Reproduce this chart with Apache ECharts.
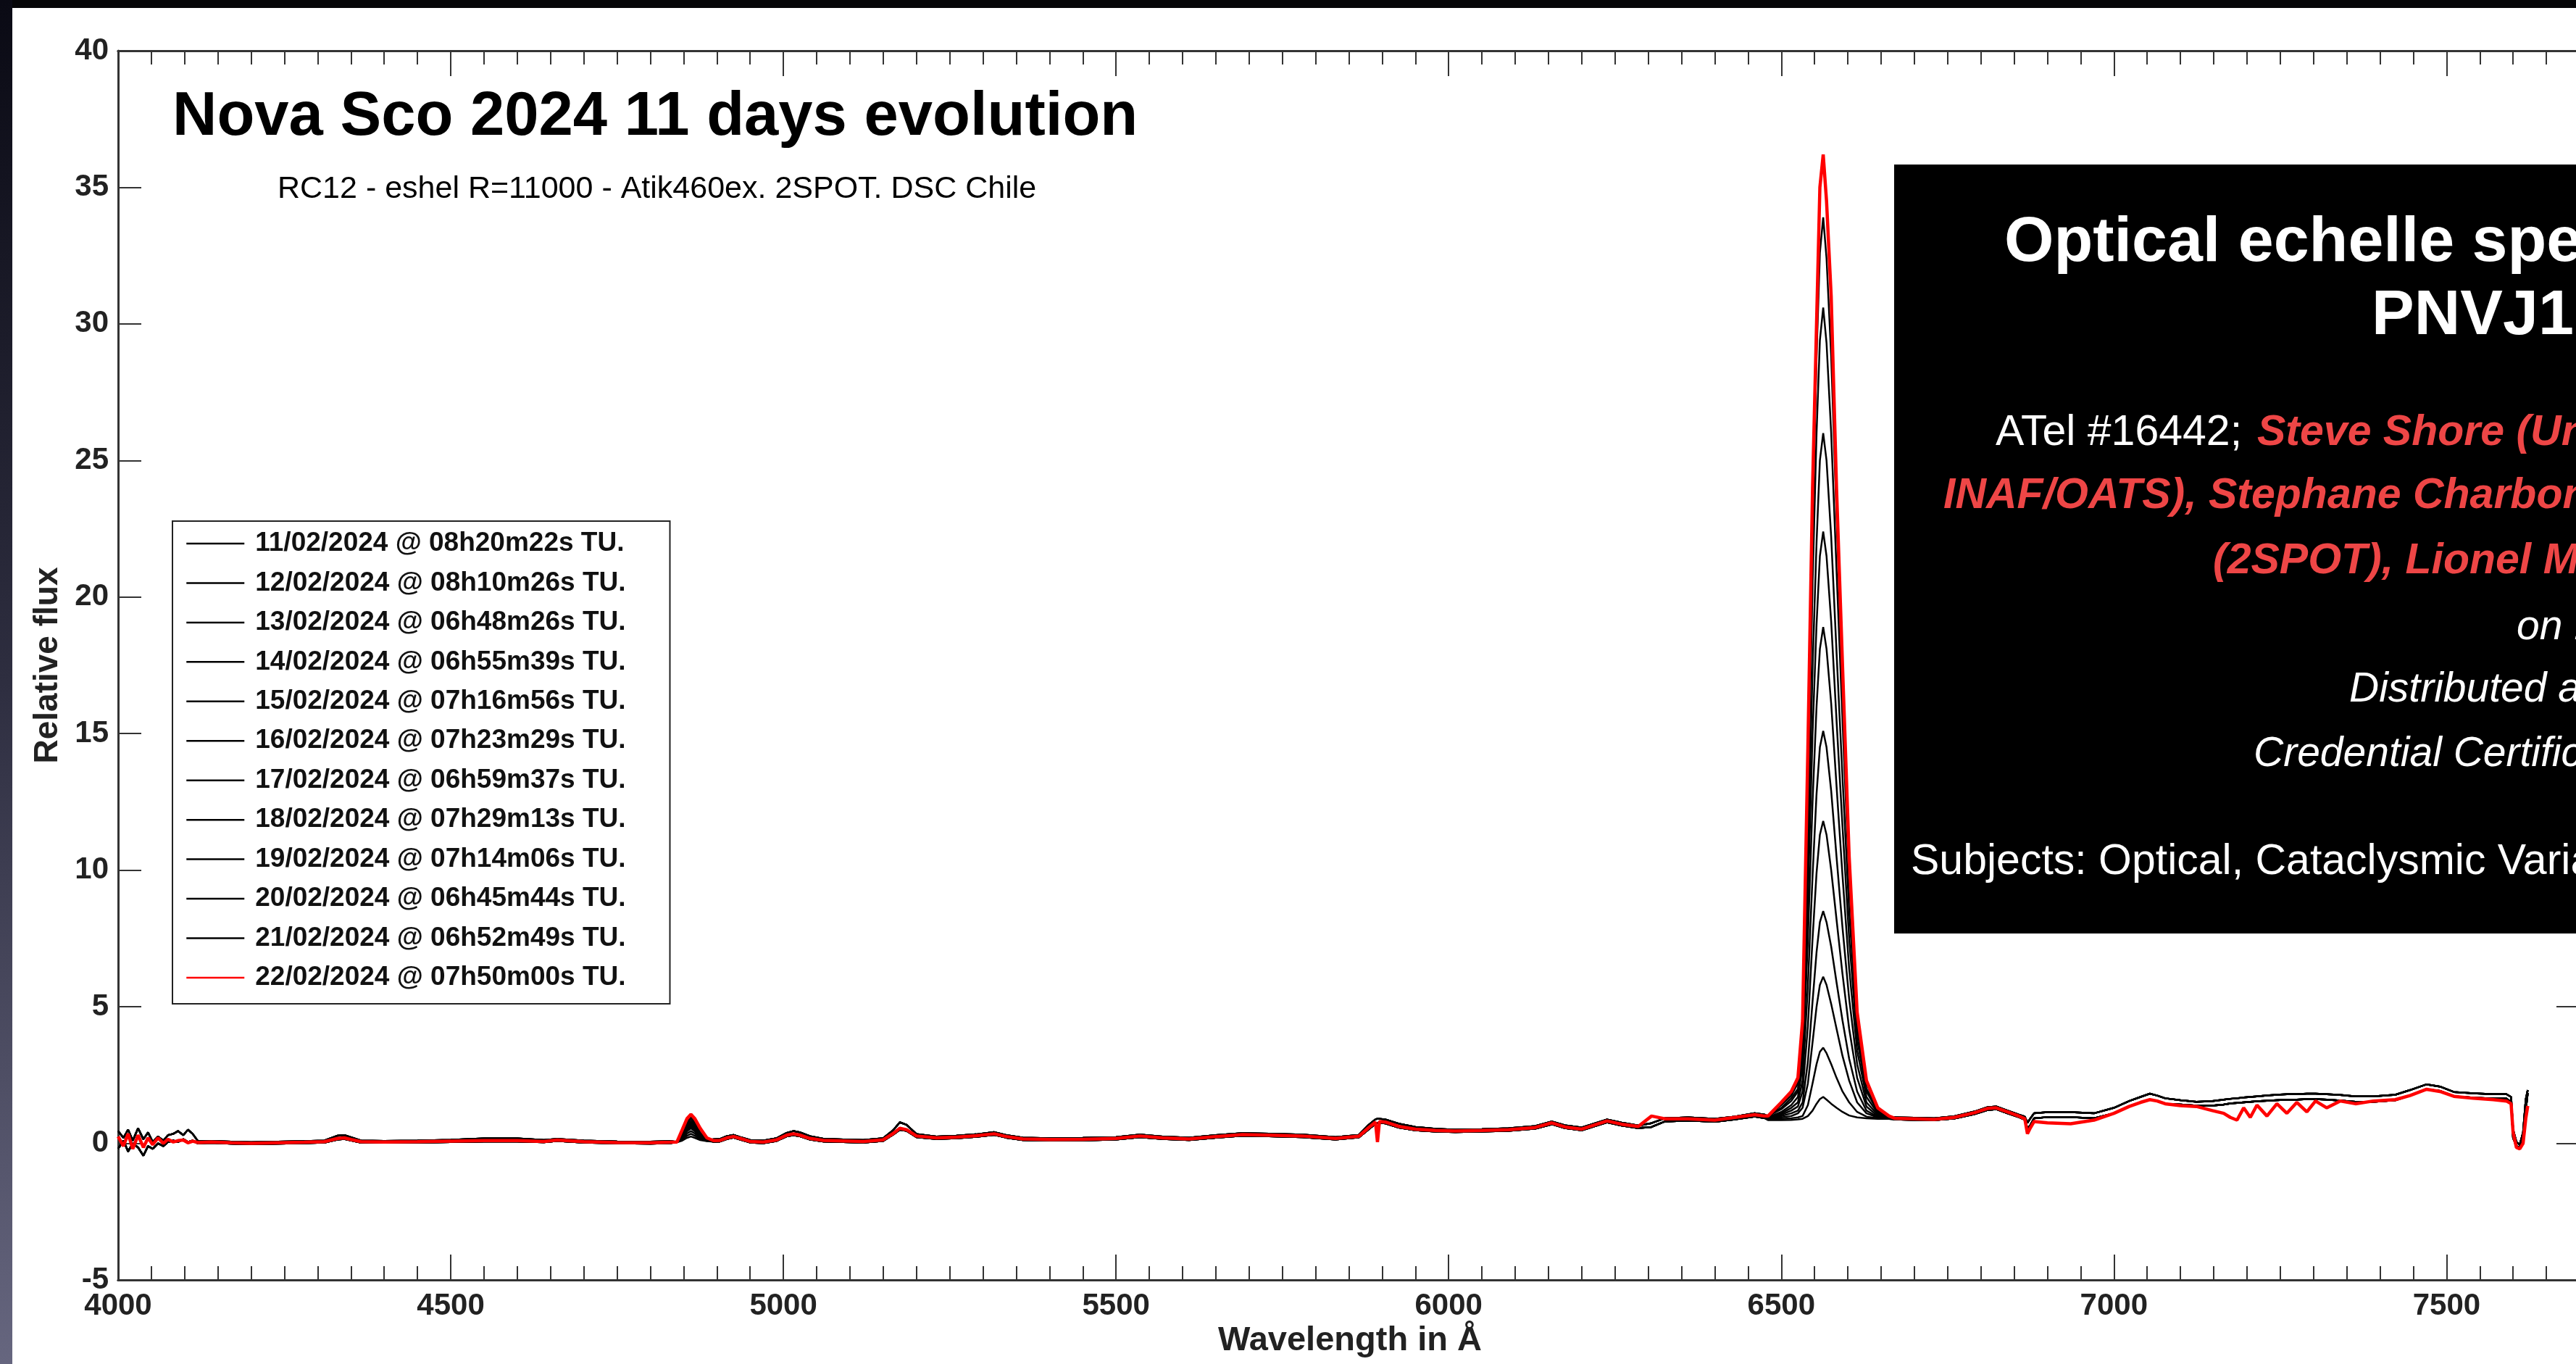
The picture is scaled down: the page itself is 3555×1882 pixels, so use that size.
<!DOCTYPE html>
<html>
<head>
<meta charset="UTF-8">
<title>Nova Sco 2024 11 days evolution</title>
<script src="https://cdn.jsdelivr.net/npm/echarts@6/dist/echarts.min.js"></script>
<style>
  body { margin: 0; padding: 0; background: #ffffff; }
  #app { width: 3555px; height: 1882px; }
</style>
</head>
<body>
<div id="app"></div>
<script>
// ---- legend names (one per night) ----
const nights = [
  '11/02/2024 @ 08h20m22s TU.', '12/02/2024 @ 08h10m26s TU.', '13/02/2024 @ 06h48m26s TU.',
  '14/02/2024 @ 06h55m39s TU.', '15/02/2024 @ 07h16m56s TU.', '16/02/2024 @ 07h23m29s TU.',
  '17/02/2024 @ 06h59m37s TU.', '18/02/2024 @ 07h29m13s TU.', '19/02/2024 @ 07h14m06s TU.',
  '20/02/2024 @ 06h45m44s TU.', '21/02/2024 @ 06h52m49s TU.', '22/02/2024 @ 07h50m00s TU.'
];

// ---- continuum 4000 - 4830 A ----
const contAWl = [4000, 4008, 4015, 4022, 4030, 4038, 4045, 4052, 4060, 4068, 4075, 4083, 4090, 4098, 4105, 4112, 4120, 4140, 4170, 4200,
  4240, 4280, 4310, 4330, 4340, 4350, 4365, 4400, 4450, 4500, 4550, 4600, 4640, 4660, 4700, 4750, 4800, 4830];
const blackHiA = [0.45, 0.2, 0.5, 0.1, 0.55, 0.15, 0.4, 0.05, 0.25, 0.1, 0.3, 0.35, 0.45, 0.3, 0.5, 0.35, 0.08, 0.09, 0.06, 0.04,
  0.06, 0.08, 0.1, 0.28, 0.3, 0.22, 0.1, 0.09, 0.1, 0.13, 0.18, 0.18, 0.12, 0.16, 0.1, 0.07, 0.06, 0.08];
const blackLoA = [-0.2, 0.1, -0.3, 0.0, -0.15, -0.45, -0.1, -0.2, 0.0, -0.1, 0.05, 0.1, 0.05, 0.15, 0.05, 0.1, 0.0, 0.02, -0.01, -0.03,
  -0.01, 0.01, 0.03, 0.14, 0.16, 0.11, 0.03, 0.02, 0.03, 0.05, 0.07, 0.07, 0.04, 0.09, 0.03, 0.0, -0.01, 0.01];
const redA = [0.25, -0.1, 0.35, -0.2, 0.3, -0.15, 0.2, -0.05, 0.2, 0.0, 0.15, 0.05, 0.1, 0.12, 0.02, 0.08, 0.03, 0.05, 0.02, 0.0,
  0.02, 0.04, 0.06, 0.18, 0.2, 0.14, 0.06, 0.05, 0.06, 0.08, 0.1, 0.1, 0.07, 0.12, 0.06, 0.03, 0.02, 0.04];

// ---- H beta, one row per night ----
const hbWl = [4840, 4848, 4855, 4861, 4867, 4875, 4885];
const hbFlux = [
  [0.04, 0.1, 0.2, 0.25, 0.2, 0.12, 0.08],
  [0.04, 0.13, 0.28, 0.35, 0.28, 0.15, 0.09],
  [0.04, 0.16, 0.36, 0.45, 0.36, 0.19, 0.1],
  [0.05, 0.2, 0.44, 0.55, 0.44, 0.23, 0.1],
  [0.05, 0.22, 0.48, 0.6, 0.48, 0.25, 0.11],
  [0.05, 0.24, 0.52, 0.65, 0.52, 0.28, 0.11],
  [0.05, 0.26, 0.56, 0.7, 0.56, 0.3, 0.12],
  [0.05, 0.28, 0.6, 0.75, 0.6, 0.32, 0.12],
  [0.05, 0.3, 0.64, 0.8, 0.64, 0.34, 0.13],
  [0.06, 0.33, 0.7, 0.88, 0.7, 0.37, 0.13],
  [0.06, 0.36, 0.76, 0.95, 0.76, 0.4, 0.14],
  [0.05, 0.5, 0.9, 1.06, 0.9, 0.55, 0.2]
];

// ---- continuum 4895 - 6475 A ----
const contBWl = [4895, 4905, 4915, 4925, 4935, 4950, 4970, 4990, 5005, 5015, 5025, 5040, 5060, 5090, 5120, 5150, 5165, 5175, 5185, 5200,
  5230, 5260, 5290, 5317, 5335, 5360, 5400, 5450, 5500, 5536, 5570, 5610, 5650, 5690, 5730, 5780, 5830, 5865, 5880, 5890,
  5893, 5896, 5905, 5925, 5950, 5980, 6010, 6050, 6090, 6130, 6155, 6175, 6200, 6238, 6260, 6285, 6305, 6325, 6360, 6400,
  6430, 6460, 6475];
const blackHiB = [0.15, 0.16, 0.26, 0.31, 0.23, 0.12, 0.1, 0.19, 0.38, 0.45, 0.4, 0.26, 0.17, 0.14, 0.12, 0.19, 0.48, 0.77, 0.68, 0.34,
  0.25, 0.28, 0.33, 0.41, 0.3, 0.21, 0.19, 0.2, 0.23, 0.32, 0.25, 0.21, 0.3, 0.37, 0.35, 0.32, 0.23, 0.31, 0.68, 0.88,
  0.9, 0.9, 0.87, 0.72, 0.6, 0.53, 0.5, 0.52, 0.55, 0.63, 0.8, 0.66, 0.58, 0.87, 0.76, 0.65, 0.74, 0.92, 0.95, 0.9,
  0.98, 1.1, 1.05];
const blackLoB = [0.06, 0.07, 0.16, 0.21, 0.14, 0.03, 0.01, 0.09, 0.26, 0.3, 0.26, 0.14, 0.07, 0.05, 0.03, 0.09, 0.32, 0.5, 0.46, 0.23,
  0.16, 0.19, 0.24, 0.31, 0.21, 0.12, 0.1, 0.11, 0.14, 0.23, 0.16, 0.12, 0.21, 0.28, 0.26, 0.23, 0.14, 0.22, 0.52, 0.72,
  0.74, 0.76, 0.73, 0.58, 0.48, 0.43, 0.41, 0.43, 0.46, 0.54, 0.7, 0.56, 0.48, 0.77, 0.65, 0.56, 0.6, 0.8, 0.84, 0.79,
  0.88, 0.98, 0.92];
const redB = [0.1, 0.11, 0.2, 0.25, 0.18, 0.07, 0.05, 0.13, 0.3, 0.35, 0.3, 0.18, 0.11, 0.09, 0.07, 0.13, 0.36, 0.55, 0.5, 0.27,
  0.2, 0.23, 0.28, 0.35, 0.25, 0.16, 0.14, 0.15, 0.18, 0.27, 0.2, 0.16, 0.25, 0.32, 0.3, 0.27, 0.18, 0.26, 0.58, 0.78,
  0.05, 0.8, 0.78, 0.62, 0.52, 0.47, 0.45, 0.47, 0.5, 0.58, 0.75, 0.6, 0.52, 0.82, 0.7, 0.62, 1.0, 0.9, 0.9, 0.85,
  0.95, 1.05, 1.0];

// ---- H alpha, one row per night ----
const haWl = [6480, 6500, 6515, 6525, 6532, 6540, 6547, 6553, 6558, 6563, 6568, 6575, 6583, 6592, 6602, 6614, 6628, 6645, 6662];
const haFlux = [
  [0.85, 0.85, 0.86, 0.88, 0.9, 1.0, 1.2, 1.45, 1.62, 1.7, 1.6, 1.45, 1.3, 1.15, 1.02, 0.95, 0.92, 0.9, 0.9],
  [0.88, 0.9, 0.92, 0.95, 1.0, 1.4, 2.2, 2.9, 3.35, 3.5, 3.3, 2.9, 2.4, 1.9, 1.5, 1.15, 0.98, 0.92, 0.9],
  [0.9, 0.95, 1.0, 1.1, 1.3, 2.2, 3.7, 5.0, 5.8, 6.1, 5.8, 5.1, 4.2, 3.2, 2.3, 1.5, 1.1, 0.95, 0.9],
  [0.9, 1.0, 1.1, 1.2, 1.5, 3.0, 5.2, 7.0, 8.1, 8.5, 8.1, 7.2, 5.9, 4.5, 3.1, 1.9, 1.2, 0.97, 0.9],
  [0.92, 1.05, 1.2, 1.35, 1.9, 4.3, 7.5, 9.9, 11.3, 11.8, 11.3, 10.0, 8.2, 6.2, 4.2, 2.4, 1.35, 1.0, 0.92],
  [0.95, 1.1, 1.3, 1.5, 2.3, 5.8, 9.8, 12.8, 14.5, 15.1, 14.5, 12.9, 10.5, 7.9, 5.3, 2.9, 1.5, 1.05, 0.93],
  [0.95, 1.15, 1.4, 1.7, 2.8, 7.5, 12.5, 16.0, 18.1, 18.9, 18.1, 16.1, 13.1, 9.8, 6.4, 3.4, 1.7, 1.1, 0.95],
  [1.0, 1.25, 1.55, 1.9, 3.2, 9.0, 15.0, 19.0, 21.5, 22.4, 21.5, 19.1, 15.5, 11.6, 7.5, 3.8, 1.9, 1.15, 0.95],
  [1.0, 1.3, 1.65, 2.0, 3.6, 10.5, 17.4, 22.0, 25.0, 26.0, 25.0, 22.2, 18.0, 13.4, 8.5, 4.2, 2.0, 1.2, 0.95],
  [1.0, 1.4, 1.75, 2.2, 4.0, 12.3, 20.5, 26.0, 29.4, 30.6, 29.3, 26.0, 21.0, 15.5, 9.6, 4.5, 2.2, 1.25, 0.97],
  [1.0, 1.45, 1.85, 2.3, 4.3, 13.6, 22.7, 28.8, 32.6, 33.9, 32.4, 28.8, 23.0, 16.8, 10.2, 4.7, 2.3, 1.3, 0.98],
  [1.0, 1.5, 1.9, 2.4, 4.5, 14.5, 24.0, 30.0, 35.0, 36.2, 34.5, 31.0, 24.0, 17.5, 10.5, 4.8, 2.3, 1.3, 1.0]
];

// ---- continuum 6670 - 7622 A ----
const contCWl = [6670, 6700, 6730, 6760, 6790, 6810, 6823, 6840, 6857, 6866, 6870, 6874, 6880, 6900, 6935, 6970, 7000, 7023, 7040, 7054,
  7065, 7077, 7100, 7124, 7148, 7165, 7175, 7185, 7195, 7205, 7215, 7230, 7245, 7260, 7275, 7290, 7303, 7320, 7340, 7363,
  7390, 7423, 7445, 7470, 7490, 7511, 7540, 7570, 7590, 7597, 7600, 7605, 7610, 7615, 7619, 7622];
const blackHiC = [0.95, 0.94, 0.92, 0.99, 1.16, 1.32, 1.35, 1.2, 1.05, 0.98, 0.75, 0.9, 1.1, 1.14, 1.14, 1.1, 1.3, 1.55, 1.7, 1.82,
  1.75, 1.65, 1.58, 1.52, 1.55, 1.6, 1.63, 1.65, 1.68, 1.7, 1.72, 1.75, 1.78, 1.8, 1.8, 1.82, 1.82, 1.8, 1.77, 1.72,
  1.72, 1.78, 1.95, 2.16, 2.08, 1.88, 1.83, 1.8, 1.8, 1.7, 0.5, 0.05, -0.05, 0.4, 1.6, 1.95];
const blackLoC = [0.88, 0.86, 0.85, 0.91, 1.07, 1.22, 1.25, 1.1, 0.96, 0.87, 0.55, 0.65, 0.92, 0.96, 0.96, 0.92, 1.1, 1.35, 1.5, 1.6,
  1.55, 1.45, 1.42, 1.38, 1.38, 1.42, 1.46, 1.48, 1.5, 1.52, 1.54, 1.56, 1.58, 1.6, 1.6, 1.62, 1.62, 1.6, 1.57, 1.52,
  1.52, 1.58, 1.75, 1.98, 1.92, 1.72, 1.67, 1.64, 1.64, 1.5, 0.2, -0.1, -0.15, 0.1, 1.2, 1.85];
const redC = [0.92, 0.9, 0.88, 0.95, 1.12, 1.28, 1.3, 1.15, 1.0, 0.9, 0.35, 0.55, 0.8, 0.75, 0.72, 0.85, 1.1, 1.35, 1.5, 1.6,
  1.55, 1.45, 1.38, 1.35, 1.2, 1.1, 0.95, 0.85, 1.3, 0.95, 1.4, 1.0, 1.45, 1.1, 1.5, 1.15, 1.55, 1.3, 1.55, 1.45,
  1.55, 1.6, 1.75, 1.98, 1.9, 1.72, 1.65, 1.6, 1.55, 1.45, 0.4, -0.15, -0.2, 0.0, 0.9, 1.37];

// ---- axes ----
const xMin = 4000, xMax = 7700, yMin = -5, yMax = 40;
const FONT = 'Liberation Sans';

function pairs(wl, vals) {
  return wl.map(function (w, i) { return [w, vals[i]]; });
}
function spectrum(parts) {
  let out = [];
  parts.forEach(function (p) { out = out.concat(pairs(p[0], p[1])); });
  return out;
}

const series = nights.map(function (name, i) {
  const isRed = i === nights.length - 1;
  const lo = i % 2 === 0;
  const parts = isRed
    ? [[contAWl, redA], [hbWl, hbFlux[i]], [contBWl, redB], [haWl, haFlux[i]], [contCWl, redC]]
    : [[contAWl, lo ? blackLoA : blackHiA], [hbWl, hbFlux[i]], [contBWl, lo ? blackLoB : blackHiB],
       [haWl, haFlux[i]], [contCWl, lo ? blackLoC : blackHiC]];
  return {
    name: name,
    type: 'line',
    symbol: 'none',
    showSymbol: false,
    xAxisIndex: 0,
    yAxisIndex: 0,
    data: spectrum(parts),
    lineStyle: { color: isRed ? '#ff0000' : '#000000', width: isRed ? 4.5 : 2.5 },
    itemStyle: { color: isRed ? '#ff0000' : '#000000' },
    emphasis: { disabled: true },
    z: isRed ? 5 : 3
  };
});

function xAx(pos, interval, len, labels) {
  return {
    type: 'value', position: pos, min: xMin, max: xMax, interval: interval,
    axisLine: { show: true, onZero: false, lineStyle: { color: '#333', width: 3 } },
    axisTick: { show: true, inside: true, length: len, lineStyle: { color: '#333', width: 2 } },
    axisLabel: {
      show: labels, margin: 15, fontSize: 42, fontWeight: 'bold', fontFamily: FONT, color: '#222',
      showMinLabel: true, showMaxLabel: false,
      formatter: function (v) { return String(v); }
    },
    minorTick: { show: false },
    splitLine: { show: false }
  };
}
function yAx(pos, labels) {
  return {
    type: 'value', position: pos, min: yMin, max: yMax, interval: 5,
    axisLine: { show: true, onZero: false, lineStyle: { color: '#333', width: 3 } },
    axisTick: { show: true, inside: true, length: 32, lineStyle: { color: '#333', width: 2 } },
    axisLabel: {
      show: labels, margin: 13, fontSize: 42, fontWeight: 'bold', fontFamily: FONT, color: '#222',
      showMinLabel: true, showMaxLabel: true,
      formatter: function (v) { return String(v); }
    },
    splitLine: { show: false }
  };
}

function txt(x, y, text, o) {
  return {
    type: 'text', x: x, y: y, z: 20, rotation: o.rotation || 0,
    style: {
      text: text, fill: o.fill || '#000', fontSize: o.size, fontWeight: o.weight || 'normal',
      fontStyle: o.style || 'normal', fontFamily: FONT,
      align: o.align || 'left', verticalAlign: 'middle',
      shadowBlur: o.blur || 0, shadowColor: o.glow || 'transparent'
    }
  };
}
const WHITE = '#ffffff', PINK = '#ee4646';
const wGlow = { blur: 5, glow: 'rgba(255,255,255,0.35)' };
const rGlow = { blur: 4, glow: 'rgba(255,90,90,0.4)' };

const chart = echarts.init(document.getElementById('app'), null, { renderer: 'canvas' });
chart.setOption({
  animation: false,
  backgroundColor: '#ffffff',
  grid: { left: 163, top: 70, width: 3397, height: 1696, containLabel: false, outerBoundsMode: 'none' },
  xAxis: [xAx('bottom', 500, 35, true), xAx('bottom', 50, 19, false), xAx('top', 500, 35, false), xAx('top', 50, 19, false)],
  yAxis: [yAx('left', true), yAx('right', false)],
  legend: {
    orient: 'vertical', left: 238, top: 719,
    padding: [11, 61, 16, 18], itemGap: 14.45, itemWidth: 80, itemHeight: 40,
    borderColor: '#222', borderWidth: 2, backgroundColor: '#ffffff',
    selectedMode: false,
    itemStyle: { opacity: 0 },
    lineStyle: { width: 2.5, opacity: 1 },
    textStyle: { fontSize: 37, fontWeight: 'bold', fontFamily: FONT, color: '#111', lineHeight: 40, padding: [0, 0, 0, 10] },
    data: nights
  },
  tooltip: { show: false },
  series: series,
  graphic: [
    { type: 'rect', z: 30, shape: { x: 0, y: 0, width: 3555, height: 11 }, style: { fill: '#060608' } },
    {
      type: 'rect', z: 30, shape: { x: 0, y: 0, width: 17, height: 1882 },
      style: {
        fill: new echarts.graphic.LinearGradient(0, 0, 0, 1, [
          { offset: 0, color: '#0a0a14' }, { offset: 0.5, color: '#2e2e40' }, { offset: 1, color: '#66667f' }
        ])
      }
    },
    txt(238, 163, 'Nova Sco 2024 11 days evolution', { size: 85, weight: 'bold' }),
    txt(383, 261, 'RC12 - eshel R=11000 - Atik460ex. 2SPOT. DSC Chile', { size: 43 }),
    txt(66, 918, 'Relative flux', { size: 46, weight: 'bold', align: 'center', rotation: Math.PI / 2, fill: '#222' }),
    txt(1863, 1850, 'Wavelength in Å', { size: 47, weight: 'bold', align: 'center', fill: '#222' }),
    // ATel screenshot box
    { type: 'rect', z: 15, shape: { x: 2614, y: 227, width: 1000, height: 1061 }, style: { fill: '#000000' } },
    txt(2766, 336, 'Optical echelle spectroscopy of', Object.assign({ size: 88, weight: 'bold', fill: WHITE }, wGlow)),
    txt(3273, 437, 'PNVJ17', Object.assign({ size: 88, weight: 'bold', fill: WHITE }, wGlow)),
    txt(2754, 598, 'ATel #16442;', Object.assign({ size: 59, fill: WHITE }, wGlow)),
    txt(3115, 598, 'Steve Shore (Univ. Pisa)', Object.assign({ size: 59, weight: 'bold', style: 'italic', fill: PINK }, rGlow)),
    txt(2682, 685, 'INAF/OATS), Stephane Charbonnel', Object.assign({ size: 59, weight: 'bold', style: 'italic', fill: PINK }, rGlow)),
    txt(3054, 775, '(2SPOT), Lionel Mulato', Object.assign({ size: 59, weight: 'bold', style: 'italic', fill: PINK }, rGlow)),
    txt(3473, 866, 'on 14 Feb 2024', Object.assign({ size: 57, style: 'italic', fill: WHITE }, wGlow)),
    txt(3242, 952, 'Distributed as an Instant Email Notice', Object.assign({ size: 57, style: 'italic', fill: WHITE }, wGlow)),
    txt(3110, 1041, 'Credential Certification', Object.assign({ size: 57, style: 'italic', fill: WHITE }, wGlow)),
    txt(2637, 1190, 'Subjects: Optical, Cataclysmic Variable, Nova', Object.assign({ size: 59, fill: WHITE }, wGlow))
  ]
});
</script>
</body>
</html>
